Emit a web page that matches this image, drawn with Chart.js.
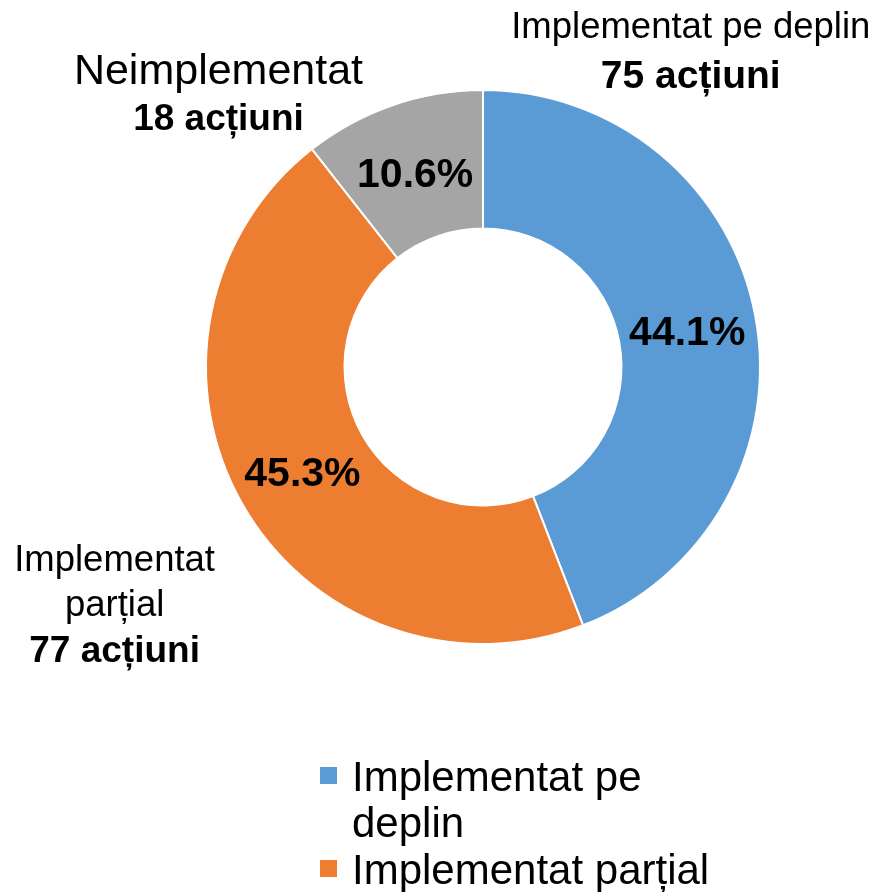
<!doctype html>
<html lang="ro">
  <head>
    <meta charset="UTF-8" />
    <script src="https://cdn.jsdelivr.net/npm/chart.js"></script>
    <title>Stadiul implementării acțiunilor</title>
    <style>
      body {
        margin: 0;
        background: #fff;
        font-family: "Liberation Sans", Arial, sans-serif;
      }
      #wrap {
        width: 879px;
        height: 892px;
        position: relative;
      }
    </style>
  </head>
  <body>
    <div id="wrap"><canvas id="myChart"></canvas></div>

    <script>
      // data
      const categories = ["Implementat pe deplin", "Implementat parțial", "Neimplementat"];
      const actions = [75, 77, 18];
      const colors = ["#5B9BD5", "#ED7D31", "#A5A5A5"];
      // outer label text lines (regular lines, then bold count)
      const labelLines = [["Implementat pe deplin"], ["Implementat", "parțial"], ["Neimplementat"]];

      const FONT = '"Liberation Sans", Arial, sans-serif';

      // label anchors, in multiples of the outer radius from the chart centre
      const labelAnchors = [
        { dx: 0.75, dy: -1.225, size: 36.5, bold: 39, gap: 0, boldGap: 50 },
        { dx: -1.33, dy: 0.699, size: 36.5, bold: 37, gap: 45, boldGap: 46 },
        { dx: -0.955, dy: -1.065, size: 43, bold: 37, gap: 0, boldGap: 48 },
      ];

      const labelsPlugin = {
        id: "sliceLabels",
        afterDatasetsDraw(chart) {
          const ctx = chart.ctx;
          const meta = chart.getDatasetMeta(0);
          const total = actions.reduce((a, b) => a + b, 0);
          ctx.save();
          ctx.fillStyle = "#000";
          ctx.textAlign = "center";
          ctx.textBaseline = "middle";

          meta.data.forEach((arc, i) => {
            // percentage inside the ring
            const p = arc.tooltipPosition();
            ctx.font = "bold 41px " + FONT;
            ctx.fillText(((actions[i] / total) * 100).toFixed(1) + "%", p.x, p.y + 5);

            // outer label
            const a = labelAnchors[i];
            const R = arc.outerRadius;
            const x = arc.x + a.dx * R;
            let y = arc.y + a.dy * R;
            ctx.font = a.size + "px " + FONT;
            labelLines[i].forEach((line, j) => {
              if (j > 0) y += a.gap;
              ctx.fillText(line, x, y);
            });
            ctx.font = "bold " + a.bold + "px " + FONT;
            ctx.fillText(actions[i] + " acțiuni", x, y + a.boldGap);
          });
          ctx.restore();
        },
      };

      // legend drawn by hand so long names can wrap
      const legendPlugin = {
        id: "wrapLegend",
        afterDraw(chart) {
          const ctx = chart.ctx;
          const left = 320;
          const textX = 352;
          const maxW = 370;
          const lineH = 46.5;
          let y = 779;
          ctx.save();
          ctx.font = "42px " + FONT;
          ctx.textBaseline = "middle";
          ctx.textAlign = "left";
          chart.data.labels.forEach((label, i) => {
            ctx.fillStyle = colors[i];
            ctx.fillRect(left, y - 12, 17, 17);
            ctx.fillStyle = "#000";
            const words = label.split(" ");
            let line = "";
            words.forEach((w) => {
              const test = line ? line + " " + w : w;
              if (ctx.measureText(test).width > maxW && line) {
                ctx.fillText(line, textX, y);
                y += lineH;
                line = w;
              } else {
                line = test;
              }
            });
            ctx.fillText(line, textX, y);
            y += lineH;
          });
          ctx.restore();
        },
      };

      const myChart = new Chart(document.getElementById("myChart"), {
        type: "doughnut",
        data: {
          labels: categories,
          datasets: [
            {
              data: actions,
              backgroundColor: colors,
              borderColor: "#fff",
              borderWidth: 2,
            },
          ],
        },
        options: {
          responsive: true,
          maintainAspectRatio: false,
          animation: false,
          cutout: "50%",
          layout: {
            padding: { left: 205, right: 118, top: 89, bottom: 247 },
          },
          plugins: {
            legend: { display: false },
            tooltip: { enabled: false },
          },
        },
        plugins: [labelsPlugin, legendPlugin],
      });
    </script>
  </body>
</html>
